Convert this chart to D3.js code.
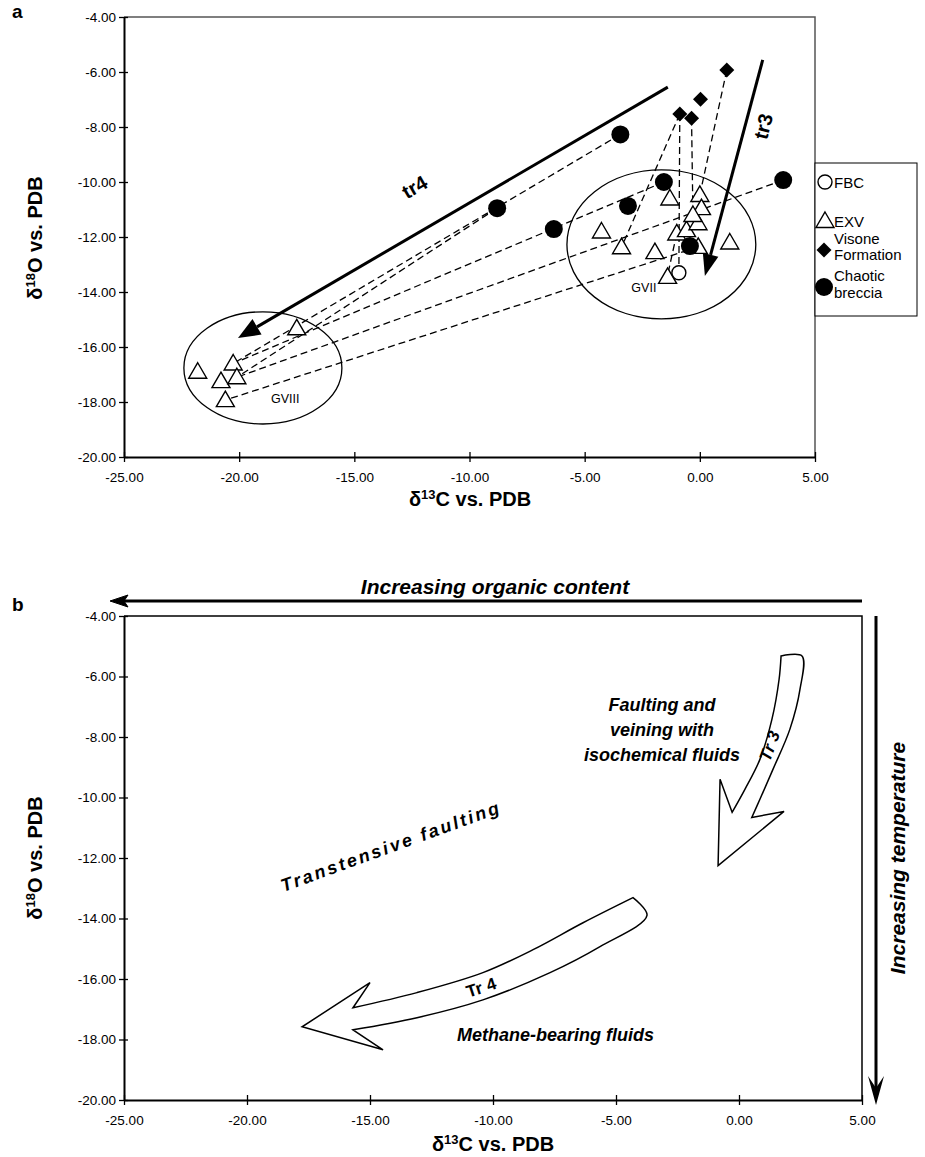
<!DOCTYPE html>
<html><head><meta charset="utf-8">
<script src="https://cdn.jsdelivr.net/npm/d3@7"></script>
<style>
body{margin:0;background:#fff}
svg{font-family:"Liberation Sans",Arial,sans-serif}
.tick text{font-size:13.5px;fill:#000}
.tie{fill:none;stroke:#000;stroke-width:1.3;stroke-dasharray:7,4}
.bi{font-weight:bold;font-style:italic}
</style></head><body>
<svg id="chart" width="925" height="1157"></svg>
<script>
// tick values shared by both panels
var xTicks = [-25, -20, -15, -10, -5, 0, 5];
var yTicks = [-4, -6, -8, -10, -12, -14, -16, -18, -20];

// panel a samples, [d13C, d18O]
var fbc = [[-0.91, -13.3]];
var exv = [[-21.8, -16.9], [-20.26, -16.6], [-20.79, -17.24], [-20.1, -17.1], [-20.6, -17.93], [-17.5, -15.32],
  [-4.27, -11.8], [-3.4, -12.37], [-1.95, -12.55], [1.3, -12.2], [-1.0, -11.87], [-0.58, -11.75],
  [-0.07, -12.36], [-1.4, -13.45], [-0.08, -11.5], [-1.3, -10.6], [0.0, -10.47], [0.07, -10.95], [-0.3, -11.2]];
var visone = [[1.17, -5.93], [0.03, -6.99], [-0.87, -7.53], [-0.36, -7.68]];
var chaotic = [[-3.45, -8.27], [-8.8, -10.95], [-6.34, -11.71], [-1.56, -10.0], [-3.12, -10.87], [3.62, -9.93], [-0.43, -12.33]];
// dashed tie lines, [x1, y1, x2, y2]
var tieLines = [
  [-3.45, -8.27, -20.26, -16.6],
  [-8.8, -10.95, -20.1, -17.1],
  [-1.56, -10.0, -20.26, -16.6],
  [3.62, -9.93, -20.1, -17.1],
  [-0.07, -12.36, -20.6, -17.93],
  [1.17, -5.93, 0.0, -10.47],
  [-0.36, -7.68, -0.3, -11.2],
  [-0.87, -7.53, -0.91, -13.3],
  [-0.87, -7.53, -3.4, -12.37],
  [-1.0, -11.87, -1.35, -13.2]
];
// trend arrows of panel a, [from, to]
var tr4a = [[-1.39, -6.55], [-20.05, -15.67]];
var tr3a = [[2.73, -5.56], [0.22, -13.42]];
// groups: name, cx, cy, rx, ry, label x, label y
var groups = [["GVIII", -18.97, -16.76, 3.43, 2.04, -18.0, -18.05], ["GVII", -1.67, -12.27, 4.1, 2.71, -2.43, -14.0]];

// panel b outlined arrows
var tr3Right = [[1.71, -5.32], [2.56, -5.32], [2.48, -6.42], [2.07, -7.74], [1.38, -9.07], [0.85, -10.06], [0.52, -10.66]];
var tr3Head = [[1.83, -10.46], [-0.85, -12.25], [-0.77, -9.4], [-0.28, -10.49]];
var tr3Left = [[-0.28, -10.49], [0.24, -9.73], [0.85, -8.74], [1.34, -7.41], [1.63, -6.09], [1.71, -5.32]];
var tr4Upper = [[-4.31, -13.31], [-6.34, -14.14], [-8.37, -15.03], [-10.41, -15.79], [-13.09, -16.45], [-15.69, -16.95]];
var tr4Head = [[-15.0, -16.12], [-17.76, -17.58], [-14.47, -18.34], [-15.69, -17.68]];
var tr4Lower = [[-15.69, -17.68], [-13.09, -17.28], [-10.41, -16.69], [-7.68, -15.79], [-5.65, -14.93], [-3.74, -13.9], [-4.31, -13.31]];

var svg = d3.select("#chart");
var fmt = function(d) { return d.toFixed(2); };

var xA = d3.scaleLinear().domain([-25, 5]).range([124, 815]);
var yA = d3.scaleLinear().domain([-20, -4]).range([457, 17]);
var xB = d3.scaleLinear().domain([-25, 5]).range([124, 862]);
var yB = d3.scaleLinear().domain([-20, -4]).range([1100, 616]);

function axes(x, y, frameColor) {
  var g = svg.append("g");
  // frame top / right
  g.append("path").attr("fill", "none").attr("stroke", frameColor).attr("stroke-width", 1.5)
    .attr("d", "M" + x(-25) + "," + y(-4) + "H" + x(5) + "V" + y(-20));
  g.append("g").attr("transform", "translate(0," + y(-20) + ")")
    .call(d3.axisBottom(x).tickValues(xTicks).tickFormat(fmt).tickSizeInner(5).tickSizeOuter(0).tickPadding(10))
    .call(function(a) {
      a.select(".domain").attr("stroke-width", 2);
      a.selectAll(".tick line").attr("y1", -5).attr("stroke-width", 1.3);
    });
  g.append("g").attr("transform", "translate(" + x(-25) + ",0)")
    .call(d3.axisLeft(y).tickValues(yTicks).tickFormat(fmt).tickSizeInner(5).tickSizeOuter(0).tickPadding(3))
    .call(function(a) {
      a.select(".domain").attr("stroke-width", 2);
      a.selectAll(".tick line").attr("x1", 4).attr("stroke-width", 1.3);
    });
  g.selectAll(".domain").attr("stroke", "#000");
}

function deltaLabel(x, y, iso, rest, rot) {
  var t = svg.append("text").attr("transform", "translate(" + x + "," + y + ")" + (rot ? " rotate(-90)" : ""))
    .attr("text-anchor", "middle").attr("font-size", 20).attr("font-weight", "bold");
  t.append("tspan").text("δ");
  t.append("tspan").attr("font-size", 13).attr("dy", -7).text(iso);
  t.append("tspan").attr("dy", 7).text(rest);
}

function arrow(x, y, pts, len, half) {
  var p0 = [x(pts[0][0]), y(pts[0][1])], p1 = [x(pts[1][0]), y(pts[1][1])];
  var dx = p1[0] - p0[0], dy = p1[1] - p0[1], L = Math.hypot(dx, dy);
  var ux = dx / L, uy = dy / L;
  var bx = p1[0] - ux * len, by = p1[1] - uy * len;
  svg.append("line").attr("x1", p0[0]).attr("y1", p0[1]).attr("x2", bx).attr("y2", by)
    .attr("stroke", "#000").attr("stroke-width", 3);
  svg.append("path").attr("fill", "#000")
    .attr("d", "M" + p1 + "L" + [bx - uy * half, by + ux * half] + "L" + [bx + uy * half, by - ux * half] + "Z");
}

// ---------- panel a ----------
axes(xA, yA, "#555");
svg.append("text").attr("x", 12).attr("y", 18).attr("font-size", 19).attr("font-weight", "bold").text("a");
deltaLabel(470, 506, "13", "C vs. PDB", false);
deltaLabel(42, 238, "18", "O vs. PDB", true);

svg.append("g").selectAll("ellipse").data(groups).join("ellipse")
  .attr("cx", function(d) { return xA(d[1]); }).attr("cy", function(d) { return yA(d[2]); })
  .attr("rx", function(d) { return xA(d[3]) - xA(0); }).attr("ry", function(d) { return yA(0) - yA(d[4]); })
  .attr("fill", "none").attr("stroke", "#000").attr("stroke-width", 1.3);
svg.append("g").selectAll("text").data(groups).join("text")
  .attr("x", function(d) { return xA(d[5]); }).attr("y", function(d) { return yA(d[6]); })
  .attr("text-anchor", "middle").attr("font-size", 12.5).text(function(d) { return d[0]; });

svg.append("g").selectAll("line").data(tieLines).join("line").attr("class", "tie")
  .attr("x1", function(d) { return xA(d[0]); }).attr("y1", function(d) { return yA(d[1]); })
  .attr("x2", function(d) { return xA(d[2]); }).attr("y2", function(d) { return yA(d[3]); });

arrow(xA, yA, tr4a, 22, 9);
arrow(xA, yA, tr3a, 22, 8);
svg.append("text").attr("transform", "translate(418,193) rotate(-30)").attr("text-anchor", "middle")
  .attr("font-size", 20).attr("font-weight", "bold").text("tr4");
svg.append("text").attr("transform", "translate(770,128) rotate(-76)").attr("text-anchor", "middle")
  .attr("font-size", 20).attr("font-weight", "bold").text("tr3");

var tri = "M0,-9L9,6.5L-9,6.5Z";
var dia = "M0,-7.5L7.5,0L0,7.5L-7.5,0Z";
function pos(x, y) { return function(d) { return "translate(" + x(d[0]) + "," + y(d[1]) + ")"; }; }
svg.append("g").selectAll("path").data(exv).join("path").attr("d", tri).attr("transform", pos(xA, yA))
  .attr("fill", "#fff").attr("stroke", "#000").attr("stroke-width", 1.4);
svg.append("g").selectAll("path").data(visone).join("path").attr("d", dia).attr("transform", pos(xA, yA)).attr("fill", "#000");
svg.append("g").selectAll("circle").data(chaotic).join("circle").attr("r", 9)
  .attr("cx", function(d) { return xA(d[0]); }).attr("cy", function(d) { return yA(d[1]); }).attr("fill", "#000");
svg.append("g").selectAll("circle").data(fbc).join("circle").attr("r", 7)
  .attr("cx", function(d) { return xA(d[0]); }).attr("cy", function(d) { return yA(d[1]); })
  .attr("fill", "#fff").attr("stroke", "#000").attr("stroke-width", 1.4);

// legend
var lg = svg.append("g");
lg.append("rect").attr("x", 815).attr("y", 163).attr("width", 102).attr("height", 153)
  .attr("fill", "#fff").attr("stroke", "#000").attr("stroke-width", 1);
lg.append("circle").attr("cx", 825).attr("cy", 182).attr("r", 7).attr("fill", "#fff").attr("stroke", "#000").attr("stroke-width", 1.4);
lg.append("path").attr("d", tri).attr("transform", "translate(825,221)").attr("fill", "#fff").attr("stroke", "#000").attr("stroke-width", 1.4);
lg.append("path").attr("d", dia).attr("transform", "translate(824,250)").attr("fill", "#000");
lg.append("circle").attr("cx", 824).attr("cy", 287).attr("r", 9).attr("fill", "#000");
var legText = [["FBC", 188], ["EXV", 227], ["Visone", 244], ["Formation", 260], ["Chaotic", 281], ["breccia", 298]];
lg.selectAll("text").data(legText).join("text").attr("x", 834).attr("y", function(d) { return d[1]; })
  .attr("font-size", 15).text(function(d) { return d[0]; });

// ---------- panel b ----------
axes(xB, yB, "#000");
svg.append("text").attr("x", 12).attr("y", 611).attr("font-size", 19).attr("font-weight", "bold").text("b");
deltaLabel(493, 1151, "13", "C vs. PDB", false);
deltaLabel(42, 858, "18", "O vs. PDB", true);

// increasing organic content
svg.append("line").attr("x1", xB(5)).attr("x2", 122).attr("y1", 601).attr("y2", 601).attr("stroke", "#000").attr("stroke-width", 3);
svg.append("path").attr("d", "M110,601L128,595L124,601L128,607Z").attr("fill", "#000").attr("stroke", "#000");
svg.append("text").attr("class", "bi").attr("x", 495).attr("y", 594).attr("text-anchor", "middle")
  .attr("font-size", 21).text("Increasing organic content");

// increasing temperature
svg.append("line").attr("x1", 876).attr("x2", 876).attr("y1", yB(-4)).attr("y2", 1090).attr("stroke", "#000").attr("stroke-width", 3);
svg.append("path").attr("d", "M876,1105L868,1076L876,1088L884,1076Z").attr("fill", "#000");
svg.append("text").attr("class", "bi").attr("transform", "translate(905,858) rotate(-90)").attr("text-anchor", "middle")
  .attr("font-size", 21).text("Increasing temperature");

function outline(parts) {
  var line = d3.line().x(function(d) { return xB(d[0]); }).y(function(d) { return yB(d[1]); });
  var d = "";
  parts.forEach(function(p, i) {
    var s = line.curve(p[1] ? d3.curveCatmullRom : d3.curveLinear)(p[0]);
    d += i === 0 ? s : "L" + s.slice(1);
  });
  return d + "Z";
}
svg.append("path").attr("d", outline([[tr3Right, true], [tr3Head, false], [tr3Left, true]]))
  .attr("fill", "#fff").attr("stroke", "#000").attr("stroke-width", 1.5).attr("stroke-linejoin", "miter");
svg.append("path").attr("d", outline([[tr4Upper, true], [tr4Head, false], [tr4Lower, true]]))
  .attr("fill", "#fff").attr("stroke", "#000").attr("stroke-width", 1.5).attr("stroke-linejoin", "miter");

svg.append("text").attr("class", "bi").attr("transform", "translate(775,748) rotate(-70)").attr("text-anchor", "middle")
  .attr("font-size", 17).text("Tr 3");
svg.append("text").attr("transform", "translate(483,993) rotate(-18)").attr("text-anchor", "middle")
  .attr("font-size", 17).attr("font-weight", "bold").text("Tr 4");

var faultLines = [["Faulting and", 711], ["veining with", 736], ["isochemical fluids", 761]];
svg.append("g").selectAll("text").data(faultLines).join("text").attr("class", "bi")
  .attr("x", 662).attr("y", function(d) { return d[1]; }).attr("text-anchor", "middle")
  .attr("font-size", 18).text(function(d) { return d[0]; });
svg.append("text").attr("class", "bi").attr("transform", "translate(393,852) rotate(-20)").attr("text-anchor", "middle")
  .attr("font-size", 18).attr("letter-spacing", 2.5).text("Transtensive faulting");
svg.append("text").attr("class", "bi").attr("x", 457).attr("y", 1041)
  .attr("font-size", 18).text("Methane-bearing fluids");
</script>
</body></html>
